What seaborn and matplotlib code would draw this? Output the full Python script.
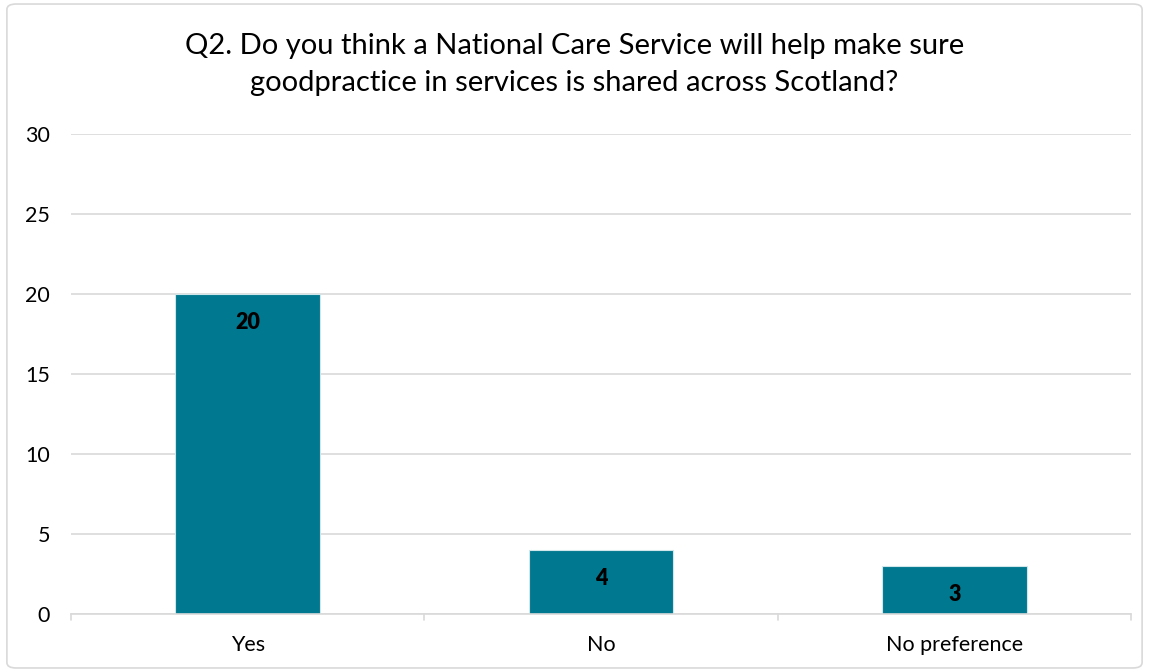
import matplotlib
matplotlib.use("Agg")
import matplotlib.pyplot as plt
import seaborn as sns
import pandas as pd
from matplotlib.patches import FancyBboxPatch

categories = ["Yes", "No", "No preference"]
responses = [20, 4, 3]
y_ticks = [0, 5, 10, 15, 20, 25, 30]
title = "Q2. Do you think a National Care Service will help make sure\ngoodpractice in services is shared across Scotland?"

sns.set_theme(style="white")
plt.rcParams["font.family"] = ["Lato", "DejaVu Sans"]

df = pd.DataFrame({"category": categories, "count": responses})

fig = plt.figure(figsize=(11.49, 6.72), dpi=100)
ax = fig.add_axes([0.0618, 0.0863, 0.9225, 0.7143])

sns.barplot(data=df, x="category", y="count", color="#00788F", width=0.41,
            edgecolor="#d0e6ea", linewidth=0.8, saturation=1, ax=ax)

ax.set_ylim(0, 30)
ax.set_xlim(-0.5, 2.5)
ax.set_yticks(y_ticks)
ax.set_yticklabels([str(t) for t in y_ticks], fontsize=15.5, color="#000000")
ax.yaxis.grid(True, color="#d9d9d9", linewidth=1.2)
ax.set_axisbelow(True)
ax.tick_params(axis="y", length=0, pad=15)
ax.tick_params(axis="x", length=0, pad=15, labelsize=15.5, labelcolor="#000000")
ax.set_xlabel("")
ax.set_ylabel("")
for side in ["top", "right", "left"]:
    ax.spines[side].set_visible(False)
ax.spines["bottom"].set_color("#d9d9d9")
ax.spines["bottom"].set_linewidth(1.2)

# category boundary tick marks below the baseline
for xb in [-0.5, 0.5, 1.5, 2.5]:
    ax.plot([xb, xb], [0, -0.35], color="#d9d9d9", linewidth=1.2,
            clip_on=False, zorder=1)

for container in ax.containers:
    ax.bar_label(container, labels=[str(v) for v in responses], label_type="edge",
                 padding=-28, fontsize=15.5, fontweight="heavy", color="#000000")

fig.text(0.5, 0.904, title, ha="center", va="center", fontsize=21,
         color="#000000", linespacing=1.5)

border = FancyBboxPatch((0.006, 0.006), 0.988, 0.988,
                        boxstyle="round,pad=0,rounding_size=0.008",
                        transform=fig.transFigure, fill=False,
                        edgecolor="#d9d9d9", linewidth=1.2)
fig.patches.append(border)

fig.savefig("out.png", dpi=100)
